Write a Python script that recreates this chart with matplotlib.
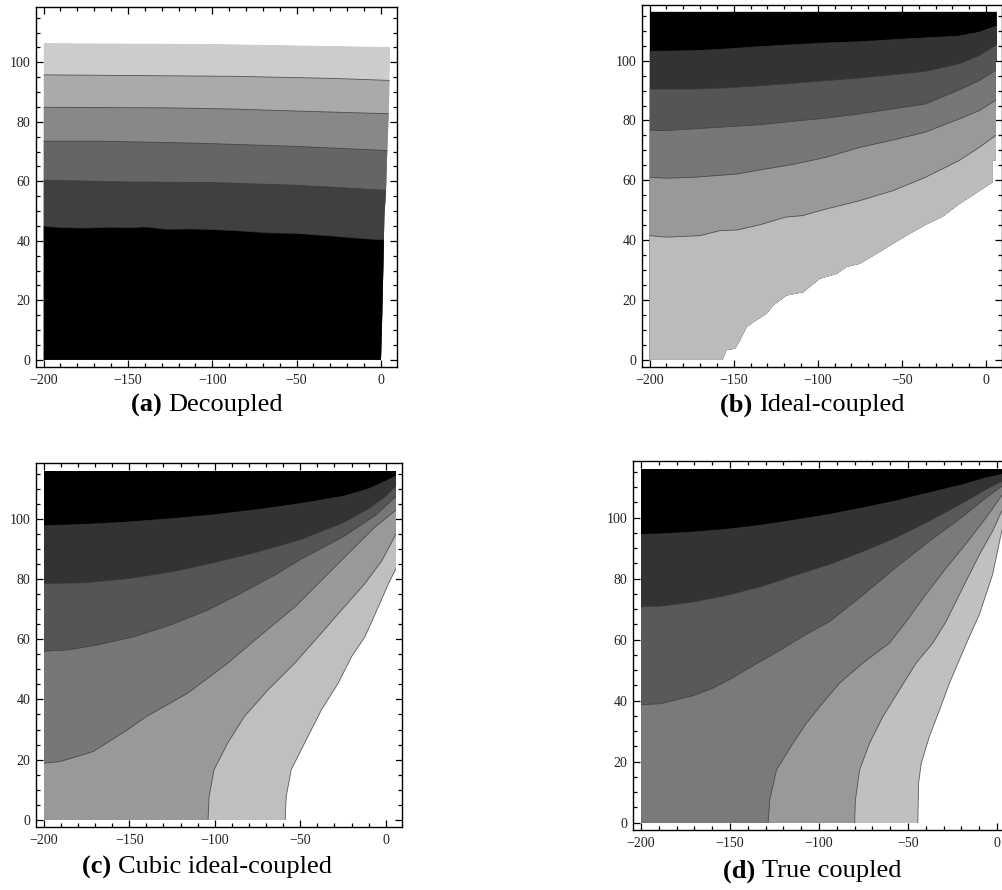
import matplotlib
matplotlib.use("Agg")
import matplotlib.pyplot as plt
from matplotlib.patches import Polygon
from matplotlib.ticker import MultipleLocator

plt.rcParams["font.family"] = ["Liberation Serif", "DejaVu Serif"]

# ---------------------------------------------------------------------------
# Data: contour boundaries, (x, y) pairs
# ---------------------------------------------------------------------------
CAPTIONS = [("(a)", "Decoupled"), ("(b)", "Ideal-coupled"),
            ("(c)", "Cubic ideal-coupled"), ("(d)", "True coupled")]

# (a) Decoupled - light at the top, black at the bottom
A_DOMAIN = [(-200, 0), (-200, 106.5), (-100, 106.2), (5.6, 105.2), (4.6, 82.9),
            (3.6, 68.3), (3.0, 57.1), (2.0, 48.1), (1.4, 31.2), (0.6, 12.1), (0, 0)]
A_COLORS = ["#cccccc", "#aaaaaa", "#888888", "#656565", "#404040", "#000000"]
A_LINE1 = [(-200, 95.8), (-87, 95.3), (-28, 94.6), (6, 93.9)]
A_LINE2 = [(-200, 84.9), (-127, 84.7), (-87, 84.3), (-48, 83.6), (6, 82.7)]
A_LINE3 = [(-200, 73.5), (-167, 73.5), (-107, 72.8), (-48, 71.7), (6, 70.3)]
A_LINE4 = [(-200, 60.4), (-150, 59.8), (-100, 59.6), (-50, 58.7), (-28, 58.0), (6, 56.9)]
A_LINE5 = [(-200, 44.9), (-190, 44.5), (-177, 44.3), (-160, 44.6), (-150, 44.4),
           (-140, 44.7), (-127, 43.9), (-112, 44.0), (-100, 43.8), (-85, 43.4),
           (-67, 42.7), (-50, 42.5), (-28, 41.6), (-12, 40.8), (6, 40.2)]
A_LINES = [A_LINE1, A_LINE2, A_LINE3, A_LINE4, A_LINE5]

# (b) Ideal-coupled - black at the top, lower edge of the domain is ragged
B_DOMAIN = [(-200, 0), (-200, 116.4), (6.5, 116.4), (6.5, 100), (5.9, 100),
            (5.9, 66.6), (4.0, 66.6), (4.0, 59.4), (-6, 55.7), (-15.8, 52.1),
            (-25.7, 47.9), (-35.6, 45.2), (-45.5, 42.1), (-55.3, 38.8), (-65.2, 35.4),
            (-75.1, 32.1), (-83, 31), (-88.9, 28.7), (-98.8, 27.1), (-108.7, 22.6),
            (-118.6, 21.5), (-126.5, 18.2), (-130.4, 15.4), (-138.3, 12.6),
            (-142.3, 10.9), (-146.2, 6.5), (-149.2, 3.7), (-154.2, 3.3), (-156.7, 0)]
B_COLORS = ["#000000", "#333333", "#555555", "#777777", "#999999", "#bbbbbb"]
B_LINE1 = [(-200, 103.1), (-174, 103.3), (-154, 103.9), (-134, 104.7), (-115, 105.3),
           (-95, 105.9), (-75, 106.3), (-55, 107.0), (-36, 107.6), (-16, 108.2),
           (-4, 109.5), (7, 111.7)]
B_LINE2 = [(-200, 90.5), (-174, 90.5), (-154, 90.9), (-134, 91.6), (-115, 92.4),
           (-95, 93.3), (-75, 94.2), (-55, 95.3), (-36, 96.4), (-16, 98.9),
           (-4, 101.7), (7, 105.6)]
B_LINE3 = [(-200, 76.8), (-192, 76.6), (-174, 77.2), (-154, 77.9), (-134, 78.6),
           (-115, 79.7), (-95, 80.8), (-75, 82.2), (-55, 83.9), (-36, 85.5),
           (-16, 90.2), (-4, 93.3), (7, 97.2)]
B_LINE4 = [(-200, 61.0), (-190, 60.7), (-174, 61.0), (-148, 62.1), (-134, 63.5),
           (-115, 65.3), (-95, 67.7), (-75, 71.0), (-55, 73.5), (-36, 76.1),
           (-16, 80.5), (-4, 83.3), (7, 87.2)]
B_LINE5 = [(-200, 41.5), (-190, 41.0), (-170, 41.5), (-158, 43.2), (-148, 43.4),
           (-134, 45.2), (-119, 47.7), (-109, 48.2), (-95, 50.4), (-75, 53.2),
           (-55, 56.6), (-36, 61.0), (-26, 63.8), (-16, 66.6), (-4, 71.0), (7, 75.5)]
B_LINES = [B_LINE1, B_LINE2, B_LINE3, B_LINE4, B_LINE5]

# (c) Cubic ideal-coupled
C_DOMAIN = [(-200, 0), (-200, 115.8), (5.9, 115.8), (5.9, 0)]
C_COLORS = ["#000000", "#333333", "#555555", "#777777", "#999999", "#bfbfbf", "#ffffff"]
C_LINE1 = [(-200, 97.7), (-175, 98.2), (-150, 99.0), (-125, 100.1), (-100, 101.4),
           (-75, 103.1), (-50, 105.1), (-25, 107.5), (-10, 110.0), (0, 112.6), (6, 114.3)]
C_LINE2 = [(-200, 78.5), (-175, 78.8), (-150, 80.2), (-125, 82.4), (-100, 85.5),
           (-75, 89.0), (-50, 93.1), (-25, 98.7), (-10, 103.4), (0, 107.5), (6, 111.0)]
C_LINE3 = [(-200, 56.0), (-185, 56.5), (-169, 58.1), (-147.5, 60.8), (-126, 64.7),
           (-104, 69.7), (-85, 75.2), (-65, 81.3), (-49, 86.8), (-25, 94.0),
           (-6, 101.2), (6, 107.5)]
C_LINE4 = [(-200, 18.8), (-190, 19.4), (-171, 22.7), (-151, 29.9), (-140, 34.3),
           (-116, 42.0), (-92.5, 52.0), (-73, 61.4), (-53, 70.8), (-37.6, 79.6),
           (-20, 89.6), (-6.3, 97.3), (6, 103.0)]
C_LINE5 = [(-103.9, 0), (-103.3, 7.7), (-100.4, 16.6), (-92.5, 25.4), (-82.7, 34.3),
           (-69, 43.1), (-53.3, 52.0), (-39.6, 60.8), (-25.9, 69.7), (-12.2, 78.5),
           (-2.4, 86.0), (6, 95.0)]
C_LINE6 = [(-58.8, 0), (-58.2, 7.7), (-55.3, 16.6), (-51.4, 21.0), (-45.5, 27.7),
           (-37.6, 36.5), (-27.8, 45.4), (-20, 54.2), (-12.2, 60.8), (-4.3, 70.8),
           (1.6, 78.5), (6, 83.5)]
C_LINES = [C_LINE1, C_LINE2, C_LINE3, C_LINE4, C_LINE5, C_LINE6]

# (d) True coupled
D_DOMAIN = [(-200, 0), (-200, 116.1), (5, 116.1), (5, 0)]
D_COLORS = ["#000000", "#333333", "#595959", "#7a7a7a", "#999999", "#c0c0c0", "#ffffff"]
D_LINE1 = [(-200, 94.5), (-189, 94.7), (-171, 95.3), (-152, 96.2), (-133, 97.5),
           (-115, 99.1), (-94, 101.1), (-75, 103.3), (-57, 105.5), (-38, 108.2),
           (-19, 110.9), (-6, 113.1), (3, 114.2), (6, 114.9)]
D_LINE2 = [(-200, 70.8), (-189, 71.0), (-171, 72.3), (-152, 74.5), (-133, 77.3),
           (-115, 80.8), (-94, 84.7), (-75, 89.0), (-57, 93.4), (-38, 98.9),
           (-19, 104.9), (-6, 109.3), (3, 112.0), (6, 112.8)]
D_LINE3 = [(-200, 38.7), (-189, 39.0), (-171, 41.6), (-160, 44.0), (-150, 47.0),
           (-137, 51.5), (-122, 56.5), (-108, 61.5), (-94, 66.0), (-75, 74.8),
           (-57, 83.6), (-38, 92.3), (-19, 100.5), (-6, 106.6), (3, 110.4), (6, 111.4)]
D_LINE4 = [(-128.6, 0), (-127.7, 7.4), (-123.9, 17.3), (-114.6, 26.1), (-107.1, 32.6),
           (-99.6, 38.1), (-88.4, 45.8), (-75.3, 52.4), (-60.4, 58.9), (-51, 66.0),
           (-39.8, 75.0), (-28.6, 83.5), (-17.4, 91.5), (-6.2, 100.0), (3, 107.6), (6, 109.2)]
D_LINE5 = [(-80, 0), (-79.6, 7.4), (-77.2, 17.3), (-71.6, 26.1), (-64.1, 34.8),
           (-54.8, 43.6), (-45.4, 52.4), (-36.1, 58.9), (-28.6, 66.0), (-19.3, 77.0),
           (-9.9, 87.9), (-2.5, 95.6), (3, 102.7), (6, 105.5)]
D_LINE6 = [(-44.5, 0), (-44.1, 12.9), (-42.6, 19.5), (-38, 28.3), (-32.3, 37.0),
           (-26.7, 45.8), (-21.1, 53.5), (-15.5, 61.1), (-10, 68.2), (-2.5, 81.4),
           (3, 96.7), (6, 102.0)]
D_LINES = [D_LINE1, D_LINE2, D_LINE3, D_LINE4, D_LINE5, D_LINE6]

PANELS = [
    (A_DOMAIN, A_COLORS, A_LINES),
    (B_DOMAIN, B_COLORS, B_LINES),
    (C_DOMAIN, C_COLORS, C_LINES),
    (D_DOMAIN, D_COLORS, D_LINES),
]

# axes frames in pixels: left, top, right, bottom
FRAMES = [(36, 7, 397, 367), (642, 5, 1002, 367), (36, 463, 402, 827), (633, 461, 1014, 830)]
CAPTION_Y = [405, 405, 867, 871]
CAPTION_X = [207, 812, 207, 812]

W, H = 1003, 890


def draw_panel(ax, domain, colors, lines):
    clip = Polygon(domain, closed=True, transform=ax.transData,
                   facecolor="none", edgecolor="none")
    ax.add_patch(clip)

    base = ax.fill([p[0] for p in domain], [p[1] for p in domain],
                   color=colors[0], lw=0, zorder=1)
    for b in base:
        b.set_clip_path(clip)

    # each boundary paints the region to its lower right with the next colour
    for i, line in enumerate(lines):
        xs = [p[0] for p in line]
        ys = [p[1] for p in line]
        px = xs + [30, 30, xs[0]]
        py = ys + [ys[-1], -30, -30]
        polys = ax.fill(px, py, color=colors[i + 1], lw=0, zorder=2 + i)
        for p in polys:
            p.set_clip_path(clip)
        ln, = ax.plot(xs, ys, color="#3a3a3a", lw=0.6, alpha=0.8, zorder=20)
        ln.set_clip_path(clip)

    ax.set_xlim(-204.5, 9.5)
    ax.set_ylim(-2.4, 118.6)
    ax.xaxis.set_major_locator(MultipleLocator(50))
    ax.xaxis.set_minor_locator(MultipleLocator(10))
    ax.yaxis.set_major_locator(MultipleLocator(20))
    ax.yaxis.set_minor_locator(MultipleLocator(5))
    ax.tick_params(which="both", direction="in", top=True, right=True,
                   width=0.9, color="black")
    ax.tick_params(which="major", length=5, labelsize=10, labelcolor="#222222")
    ax.tick_params(which="minor", length=3)
    ax.tick_params(axis="x", pad=5)
    ax.tick_params(axis="y", pad=4)
    for s in ax.spines.values():
        s.set_linewidth(1.0)
        s.set_color("black")
        s.set_zorder(30)


fig = plt.figure(figsize=(W / 100, H / 100), dpi=100)
axes = []
for (l, t, r, b), (domain, colors, lines) in zip(FRAMES, PANELS):
    ax = fig.add_axes([l / W, 1 - b / H, (r - l) / W, (b - t) / H])
    draw_panel(ax, domain, colors, lines)
    axes.append(ax)

# captions: bold label + regular text, centred as a pair
renderer = fig.canvas.get_renderer()
for (lab, txt), cx, cy in zip(CAPTIONS, CAPTION_X, CAPTION_Y):
    t1 = fig.text(0, 1 - cy / H, lab + " ", fontsize=19, fontweight="bold", va="center")
    t2 = fig.text(0, 1 - cy / H, txt, fontsize=19, va="center")
    w1 = t1.get_window_extent(renderer).width
    w2 = t2.get_window_extent(renderer).width
    x0 = cx - (w1 + w2) / 2
    t1.set_x(x0 / W)
    t2.set_x((x0 + w1) / W)

fig.savefig("out.png", dpi=100)
